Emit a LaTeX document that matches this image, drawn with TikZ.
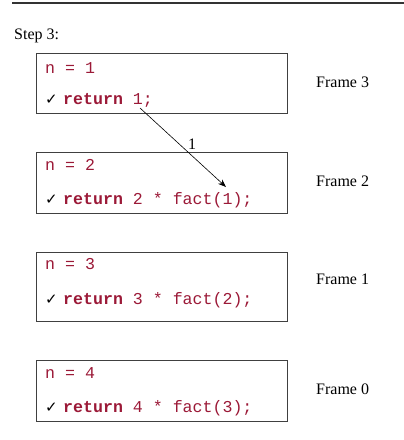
\documentclass[tikz,border=0pt]{standalone}
\usepackage{fontspec}
\setmainfont{Liberation Serif}
\setmonofont{Liberation Mono}
\newfontfamily\symfont{DejaVu Sans}
\usetikzlibrary{arrows.meta}
\definecolor{codered}{RGB}{155,25,55}
\begin{document}
\begin{tikzpicture}[x=1pt,y=-1pt,
  framebox/.style={draw=black!75, line width=0.9pt, fill=none},
  code/.style={anchor=base west, inner sep=0pt, font=\ttfamily\fontsize{16.6}{19}\selectfont, text=codered},
  chk/.style={anchor=base west, inner sep=0pt, font=\symfont\fontsize{15}{17}\selectfont},
  lbl/.style={anchor=base west, inner sep=0pt, font=\fontsize{16}{19}\selectfont}]
\useasboundingbox (0,0) rectangle (404,440);
\draw[line width=1.5pt, black!80] (12,3) -- (404,3);
\node[lbl] (step) at (14,39) {Step 3:};
% frame boxes
\draw[framebox] (36,53) rectangle (287,113);
\draw[framebox] (36,152) rectangle (287,213);
\draw[framebox] (36,252) rectangle (287,321);
\draw[framebox] (36,360) rectangle (287,421);
% frame 3
\node[code] (n1) at (45,73) {n = 1};
\node[chk] (c1) at (45,104) {✓};
\node[code] (r1) at (63,104) {\textbf{return} 1;};
\node[lbl] (f3) at (316,87) {Frame 3};
% frame 2
\node[code] (n2) at (45,170) {n = 2};
\node[chk] (c2) at (45,204) {✓};
\node[code] (r2) at (63,204) {\textbf{return} 2 * fact(1);};
\node[lbl] (f2) at (316,186) {Frame 2};
% frame 1
\node[code] (n3) at (45,269) {n = 3};
\node[chk] (c3) at (45,304) {✓};
\node[code] (r3) at (63,304) {\textbf{return} 3 * fact(2);};
\node[lbl] (f1) at (316,284) {Frame 1};
% frame 0
\node[code] (n4) at (45,378) {n = 4};
\node[chk] (c4) at (45,412) {✓};
\node[code] (r4) at (63,412) {\textbf{return} 4 * fact(3);};
\node[lbl] (f0) at (316,394) {Frame 0};
% return arrow
\coordinate (a1) at (140,108);
\coordinate (a2) at (226,187);
\draw[line width=0.6pt, -{Stealth[length=8pt,width=6pt]}] (a1) -- (a2);
\node[lbl] (one) at (188,149) {1};
\end{tikzpicture}
\end{document}
